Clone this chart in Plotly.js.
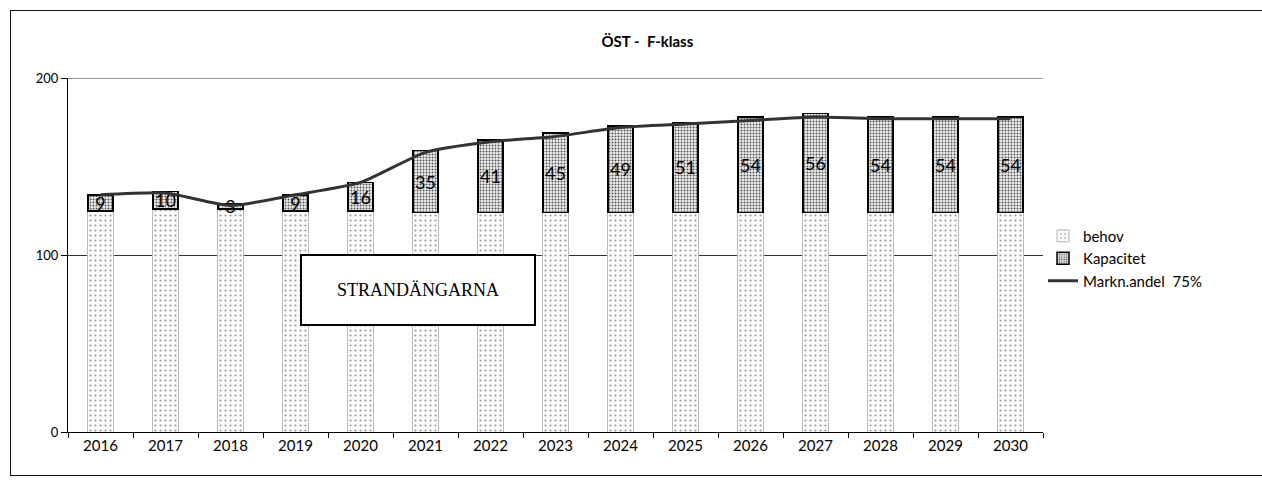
<!DOCTYPE html>
<html>
<head>
<meta charset="utf-8">
<script src="https://cdn.plot.ly/plotly-3.0.1.min.js"></script>
<style>
  html, body { margin: 0; padding: 0; background: #fff; }
  #frame { position: absolute; left: 10px; top: 10px; width: 1260px; height: 466px; border-left: 1px solid #111; border-top: 1px solid #111; border-bottom: 1px solid #111; box-sizing: border-box; pointer-events: none; z-index: 5; }
  #chart { position: absolute; left: 0; top: 0; width: 1262px; height: 484px; }
</style>
</head>
<body>
<div id="chart"></div>
<div id="frame"></div>
<script>
const years = ['2016','2017','2018','2019','2020','2021','2022','2023','2024','2025','2026','2027','2028','2029','2030'];
const behov = [125, 126, 126, 125, 125, 124, 124, 124, 124, 124, 124, 124, 124, 124, 124];
const kapacitet = [9, 10, 3, 9, 16, 35, 41, 45, 49, 51, 54, 56, 54, 54, 54];
const marknandel = [134, 135, 128, 134, 141, 158, 164, 167, 172, 174, 176, 178, 177, 177, 177];

const font = 'Lato, "Noto Sans", sans-serif';

const traces = [
  {
    type: 'bar', name: 'behov', x: years, y: behov,
    marker: {
      color: '#fafafa',
      pattern: { shape: '.', fgcolor: '#999', bgcolor: '#fcfcfc', size: 5, solidity: 0.15 },
      line: { color: '#bbb', width: 1 }
    },
    hoverinfo: 'skip'
  },
  {
    type: 'bar', name: 'Kapacitet', x: years, y: kapacitet,
    text: kapacitet.map(String), textposition: 'inside', insidetextanchor: 'middle',
    textangle: 0, constraintext: 'none',
    textfont: { family: font, size: 18, color: '#000' },
    marker: {
      color: '#dcdcdc',
      pattern: { shape: '.', fgcolor: '#555', bgcolor: '#eeeeee', size: 3, solidity: 0.35 },
      line: { color: '#000', width: 1.5 }
    },
    hoverinfo: 'skip'
  },
  {
    type: 'scatter', mode: 'lines', name: 'Markn.andel  75%', x: years, y: marknandel,
    line: { color: '#333', width: 3, shape: 'spline', smoothing: 0.6 },
    hoverinfo: 'skip'
  }
];

const layout = {
  width: 1262, height: 484,
  paper_bgcolor: '#fff', plot_bgcolor: '#fff',
  margin: { l: 68, r: 219, t: 78, b: 52 },
  barmode: 'stack', bargap: 0.615,
  font: { family: font, color: '#000' },
  title: {
    text: 'ÖST -  F-klass', font: { family: font, size: 15, color: '#000', weight: 'bold' },
    x: 0.513, xref: 'container', xanchor: 'center',
    y: 0.913, yref: 'container', yanchor: 'middle'
  },
  xaxis: {
    type: 'category', tickson: 'boundaries', ticks: 'outside', ticklen: 5,
    tickcolor: '#000', showline: true, linecolor: '#000', linewidth: 1,
    tickfont: { family: font, size: 15, color: '#000' }, showgrid: false
  },
  yaxis: {
    range: [0, 200], dtick: 100, ticks: 'outside', ticklen: 6, tickcolor: '#000',
    showline: true, linecolor: '#000', linewidth: 1,
    showgrid: true, gridcolor: '#333', gridwidth: 1, zeroline: false,
    tickfont: { family: font, size: 13, color: '#000' }
  },
  legend: {
    x: 1.0, xanchor: 'left', y: 0.60, yanchor: 'top',
    traceorder: 'normal', font: { family: font, size: 15, color: '#000' },
    itemwidth: 30, bgcolor: 'rgba(0,0,0,0)'
  },
  shapes: [
    { type: 'line', xref: 'paper', yref: 'y', x0: 0, x1: 1, y0: 200, y1: 200, line: { color: '#333', width: 1 }, layer: 'below' }
  ],
  annotations: [
    {
      xref: 'paper', yref: 'paper', x: 0.238, y: 0.40, xanchor: 'left', yanchor: 'middle',
      text: 'STRANDÄNGARNA', showarrow: false, width: 228, height: 64,
      font: { family: '"Liberation Serif", "DejaVu Serif", serif', size: 18, color: '#000' },
      bordercolor: '#000', borderwidth: 2, borderpad: 2, bgcolor: '#fff'
    }
  ],
  showlegend: true
};

Plotly.newPlot('chart', traces, layout, { staticPlot: true, displayModeBar: false });
</script>
</body>
</html>
